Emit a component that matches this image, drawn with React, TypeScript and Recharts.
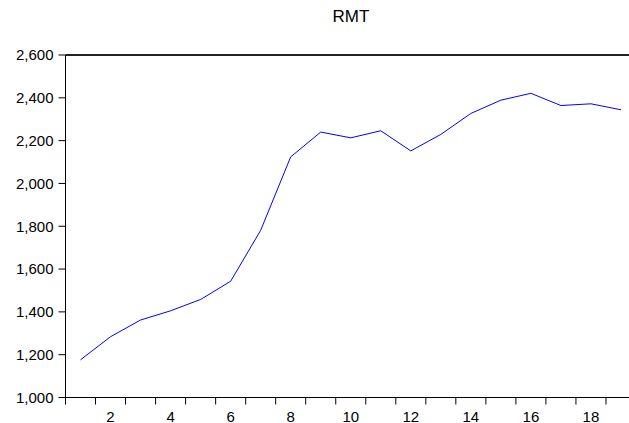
import { LineChart, Line, XAxis, YAxis, ReferenceLine } from 'recharts';

const periods = [1, 2, 3, 4, 5, 6, 7, 8, 9, 10, 11, 12, 13, 14, 15, 16, 17, 18, 19];
const rmt = [1176, 1284, 1362, 1405, 1458, 1543, 1781, 2124, 2240, 2213, 2246, 2152, 2229, 2327, 2389, 2421, 2364, 2372, 2344];
const yTicks = [1000, 1200, 1400, 1600, 1800, 2000, 2200, 2400, 2600];
const xTickLabels = [2, 4, 6, 8, 10, 12, 14, 16, 18];

const data = periods.map((p, i) => ({ x: p, v: rmt[i] }));
// tick marks sit between periods, EViews style
const bandEdges = [...periods.map((p) => p - 0.5), periods[periods.length - 1] + 0.5];
const domain: [number, number] = [bandEdges[0], bandEdges[bandEdges.length - 1]];
const yDomain: [number, number] = [yTicks[0], yTicks[yTicks.length - 1]];

const font = 'Arial, "Liberation Sans", sans-serif';
const tickStyle = { fontSize: 15, fill: '#000', fontFamily: font };

export default function App() {
  return (
    <div style={{ position: 'fixed', left: 0, top: 0, width: 629, height: 423, overflow: 'hidden', background: '#fff' }}>
      <div
        style={{
          position: 'absolute', left: 251, top: 8, width: 200, textAlign: 'center',
          fontFamily: font, fontSize: 17, lineHeight: '17px', color: '#000',
        }}
      >
        RMT
      </div>
      <LineChart width={660} height={423} data={data} margin={{ top: 55, right: 24, left: 0.5, bottom: 0 }}>
        <XAxis
          xAxisId="b"
          type="number"
          dataKey="x"
          domain={domain}
          ticks={bandEdges}
          interval={0}
          height={1}
          tickFormatter={() => ''}
          tickSize={7}
          stroke="#000"
          tickLine={{ stroke: '#000' }}
          axisLine={{ stroke: '#000' }}
        />
        <XAxis
          xAxisId="lbl"
          type="number"
          dataKey="x"
          domain={domain}
          ticks={xTickLabels}
          interval={0}
          height={24.5}
          tickSize={6}
          tickMargin={7}
          tickLine={false}
          axisLine={false}
          tick={tickStyle}
        />
        <YAxis
          type="number"
          domain={yDomain}
          ticks={yTicks}
          interval={0}
          width={65}
          tickSize={7}
          tickMargin={5}
          stroke="#000"
          tickLine={{ stroke: '#000' }}
          axisLine={{ stroke: '#000' }}
          tick={tickStyle}
          tickFormatter={(v: number) => v.toLocaleString('en-US')}
        />
        <ReferenceLine xAxisId="b" y={yDomain[1]} stroke="#222" strokeWidth={2} />
        <Line
          xAxisId="b"
          type="linear"
          dataKey="v"
          stroke="#0000ff"
          strokeWidth={1}
          dot={false}
          isAnimationActive={false}
        />
      </LineChart>
    </div>
  );
}
